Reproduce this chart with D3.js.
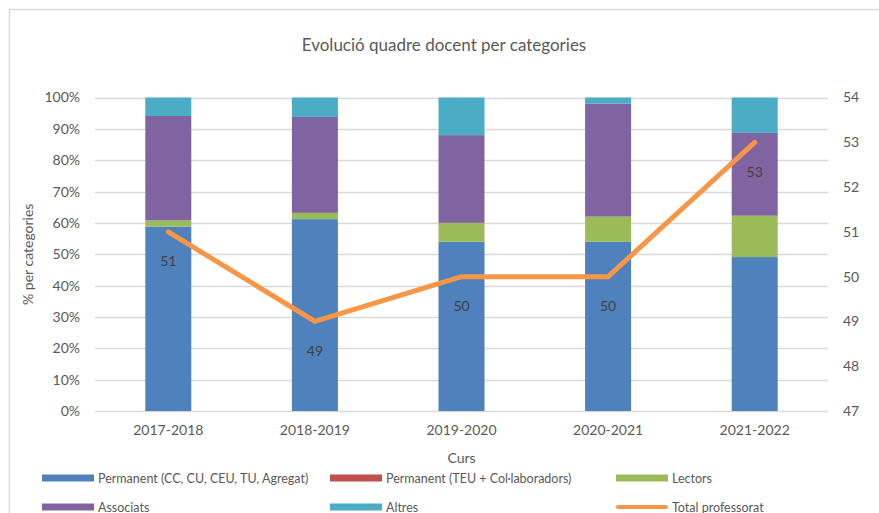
<!DOCTYPE html>
<html>
<head>
<meta charset="utf-8">
<script src="https://cdn.jsdelivr.net/npm/d3@7"></script>
<style>
  html, body { margin: 0; padding: 0; background: #fff; }
  svg { display: block; font-family: Lato, "Open Sans", sans-serif; }
</style>
</head>
<body>
<svg id="chart" width="879" height="513"></svg>
<script>
// ---- Data ----
const categories = ["2017-2018", "2018-2019", "2019-2020", "2020-2021", "2021-2022"];
const permanentCC = [58.8, 61.2, 54.0, 54.0, 49.1];
const permanentTEU = [0, 0, 0, 0, 0];
const lectors = [2.0, 2.0, 6.0, 8.0, 13.2];
const associats = [33.3, 30.6, 28.0, 36.0, 26.4];
const altres = [5.9, 6.2, 12.0, 2.0, 11.3];
const totalProfessorat = [51, 49, 50, 50, 53];
const leftTicks = [0, 10, 20, 30, 40, 50, 60, 70, 80, 90, 100];
const rightTicks = [47, 48, 49, 50, 51, 52, 53, 54];

const seriesNames = ["Permanent (CC, CU, CEU, TU, Agregat)", "Permanent (TEU + Col·laboradors)", "Lectors", "Associats", "Altres"];
const seriesValues = [permanentCC, permanentTEU, lectors, associats, altres];
const colors = ["#4F81BD", "#C0504D", "#9BBB59", "#8064A2", "#4BACC6"];
const lineColor = "#F79646";
const lineName = "Total professorat";

// ---- Layout ----
const svg = d3.select("#chart");
const plot = { left: 95, right: 828, top: 97.5, bottom: 411 };

// chart border (partially visible)
svg.append("path")
  .attr("d", "M9.5,513 L9.5,9.5 L879,9.5")
  .attr("fill", "none").attr("stroke", "#d9d9d9").attr("stroke-width", 1.5);

const x = d3.scaleBand().domain(categories).range([plot.left, plot.right]).paddingInner(0.6862).paddingOuter(0.3431);
const y = d3.scaleLinear().domain([0, 100]).range([plot.bottom, plot.top]);
const y2 = d3.scaleLinear().domain([47, 54]).range([plot.bottom, plot.top]);

// gridlines
svg.append("g").selectAll("line").data(leftTicks).join("line")
  .attr("x1", plot.left).attr("x2", plot.right)
  .attr("y1", d => Math.round(y(d)) + 0.5).attr("y2", d => Math.round(y(d)) + 0.5)
  .attr("stroke", "#d9d9d9").attr("stroke-width", 1.3);

// stacked data
const table = categories.map((c, i) => {
  const o = { cat: c };
  seriesNames.forEach((s, k) => o[s] = seriesValues[k][i]);
  return o;
});
const stacked = d3.stack().keys(seriesNames)(table);

svg.append("g").selectAll("g").data(stacked).join("g")
  .attr("fill", (d, i) => colors[i])
  .selectAll("rect").data(d => d).join("rect")
  .attr("x", d => x(d.data.cat))
  .attr("width", x.bandwidth())
  .attr("y", d => y(d[1]))
  .attr("height", d => Math.max(0, y(d[0]) - y(d[1])));

// left axis labels
const axisL = d3.axisLeft(y).tickValues(leftTicks).tickFormat(d => d + "%").tickSize(0).tickPadding(0);
const gL = svg.append("g").attr("transform", `translate(80,0)`).call(axisL);
gL.select(".domain").remove();
gL.selectAll("text").attr("fill", "#595959").style("font-size", "14px").style("font-family", "Lato, sans-serif");

// right axis labels
const axisR = d3.axisRight(y2).tickValues(rightTicks).tickFormat(d3.format("d")).tickSize(0).tickPadding(0);
const gR = svg.append("g").attr("transform", `translate(843,0)`).call(axisR);
gR.select(".domain").remove();
gR.selectAll("text").attr("fill", "#595959").style("font-size", "14px").style("font-family", "Lato, sans-serif");

// bottom axis labels
const axisB = d3.axisBottom(x).tickSize(0).tickPadding(0);
const gB = svg.append("g").attr("transform", `translate(0,${plot.bottom + 14})`).call(axisB);
gB.select(".domain").remove();
gB.selectAll("text").attr("fill", "#595959").style("font-size", "14px").style("font-family", "Lato, sans-serif");

// line
const line = d3.line().x((d, i) => x(categories[i]) + x.bandwidth() / 2).y(d => y2(d));
svg.append("path").datum(totalProfessorat)
  .attr("d", line).attr("fill", "none").attr("stroke", lineColor)
  .attr("stroke-width", 5).attr("stroke-linejoin", "round").attr("stroke-linecap", "round");

// line labels
svg.append("g").selectAll("text").data(totalProfessorat).join("text")
  .attr("x", (d, i) => x(categories[i]) + x.bandwidth() / 2)
  .attr("y", d => y2(d) + 29)
  .attr("text-anchor", "middle").attr("dominant-baseline", "central")
  .attr("fill", "#404040").style("font-size", "14px")
  .text(d => d);

// title
svg.append("text").attr("x", 444).attr("y", 44)
  .attr("text-anchor", "middle").attr("dominant-baseline", "central")
  .attr("fill", "#595959").style("font-size", "17px")
  .text("Evolució quadre docent per categories");

// axis titles
svg.append("text").attr("transform", `translate(27,${(plot.top + plot.bottom) / 2}) rotate(-90)`)
  .attr("text-anchor", "middle").attr("dominant-baseline", "central")
  .attr("fill", "#595959").style("font-size", "14px")
  .text("% per categories");
svg.append("text").attr("x", (plot.left + plot.right) / 2).attr("y", 457)
  .attr("text-anchor", "middle").attr("dominant-baseline", "central")
  .attr("fill", "#595959").style("font-size", "14px")
  .text("Curs");

// legend
const legendItems = seriesNames.map((n, i) => ({ name: n, color: colors[i], type: "rect" }))
  .concat([{ name: lineName, color: lineColor, type: "line" }]);
const colX = [42, 330, 616];
const rowY = [478, 507];
const lg = svg.append("g").selectAll("g").data(legendItems).join("g")
  .attr("transform", (d, i) => `translate(${colX[i % 3]},${rowY[Math.floor(i / 3)]})`);
lg.filter(d => d.type === "rect").append("rect")
  .attr("x", 0).attr("y", -3.5).attr("width", 52).attr("height", 7).attr("fill", d => d.color);
lg.filter(d => d.type === "line").append("line")
  .attr("x1", 2).attr("x2", 50).attr("y1", 0).attr("y2", 0)
  .attr("stroke", d => d.color).attr("stroke-width", 4).attr("stroke-linecap", "round");
lg.append("text").attr("x", 56).attr("y", 0).attr("dominant-baseline", "central")
  .attr("fill", "#595959").style("font-size", "12.5px")
  .text(d => d.name);
</script>
</body>
</html>
